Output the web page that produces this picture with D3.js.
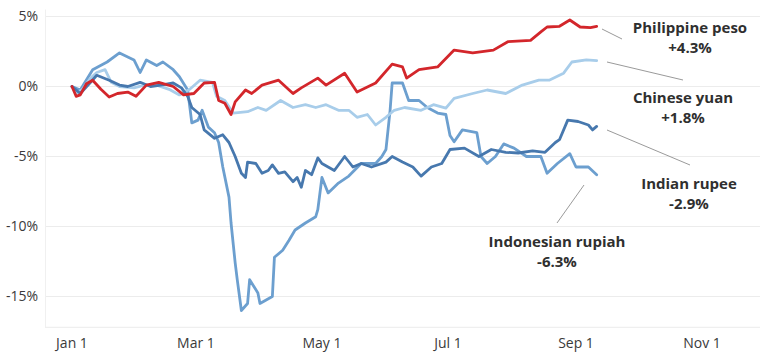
<!DOCTYPE html>
<html>
<head>
<meta charset="utf-8">
<script src="https://cdn.jsdelivr.net/npm/d3@7"></script>
<style>
  html, body { margin: 0; padding: 0; background: #fff; }
  svg { display: block; font-family: "Open Sans", Lato, sans-serif; }
  .tick-label { font-size: 14px; fill: #3a3a3a; }
  .end-label { font-size: 15px; font-weight: 700; fill: #2f2f2f; }
</style>
</head>
<body>
<div id="chart"></div>
<script>
// ---- Data (2020, % change vs. US dollar since Jan 1)
const pesoSeries = [
  ['01-01', 0], ['01-03', -0.7], ['01-05', -0.6], ['01-08', 0.2], ['01-11', 0.45],
  ['01-15', -0.2], ['01-19', -0.75], ['01-23', -0.5], ['01-28', -0.4], ['02-01', -0.7],
  ['02-06', 0.1], ['02-12', 0.3], ['02-19', 0.0], ['02-24', -0.6], ['02-29', -0.5],
  ['03-05', 0.25], ['03-10', 0.3], ['03-12', -1.0], ['03-15', -1.2], ['03-18', -2.0],
  ['03-20', -1.1], ['03-25', -0.25], ['03-28', -0.5], ['04-02', 0.1], ['04-10', 0.45],
  ['04-17', -0.5], ['04-21', -0.1], ['04-29', 0.6], ['05-03', 0.1], ['05-12', 0.95],
  ['05-18', -0.4], ['05-27', 0.25], ['06-04', 1.6], ['06-09', 1.4], ['06-11', 0.6],
  ['06-17', 1.2], ['06-26', 1.4], ['06-30', 2.0], ['07-04', 2.6], ['07-13', 2.4],
  ['07-23', 2.6], ['07-30', 3.2], ['08-10', 3.3], ['08-15', 3.9], ['08-18', 4.25],
  ['08-24', 4.3], ['08-29', 4.75], ['09-03', 4.25], ['09-08', 4.2], ['09-11', 4.3]
];

const yuanSeries = [
  ['01-01', 0], ['01-03', -0.5], ['01-06', -0.2], ['01-10', 0.6], ['01-13', 1.0],
  ['01-17', 1.2], ['01-20', 0.3], ['01-24', 0.0], ['01-31', -0.1], ['02-05', 0.1],
  ['02-11', 0.1], ['02-17', -0.2], ['02-22', -0.6], ['02-27', -0.2], ['03-03', 0.45],
  ['03-09', 0.3], ['03-11', -0.7], ['03-15', -1.0], ['03-19', -1.9], ['03-26', -1.8],
  ['03-31', -1.5], ['04-04', -1.7], ['04-11', -1.0], ['04-17', -1.5], ['04-23', -1.3],
  ['04-28', -1.5], ['05-03', -1.3], ['05-09', -1.7], ['05-14', -1.7], ['05-18', -2.2],
  ['05-23', -2.0], ['05-27', -2.75], ['06-01', -2.2], ['06-05', -1.7], ['06-10', -1.5],
  ['06-18', -1.7], ['06-24', -1.3], ['06-30', -1.55], ['07-04', -0.85], ['07-13', -0.5],
  ['07-20', -0.25], ['07-29', -0.5], ['08-06', 0.1], ['08-14', 0.45], ['08-19', 0.45],
  ['08-26', 0.95], ['08-30', 1.75], ['09-06', 1.9], ['09-11', 1.85]
];

const rupeeSeries = [
  ['01-01', 0], ['01-05', -0.5], ['01-10', 0.3], ['01-13', 0.8], ['01-19', 0.45],
  ['01-24', 0.1], ['01-28', 0.0], ['02-03', 0.3], ['02-08', 0.0], ['02-13', 0.1],
  ['02-19', 0.25], ['02-23', -0.1], ['02-26', -0.7], ['02-28', -1.5], ['03-03', -2.0],
  ['03-05', -3.1], ['03-10', -3.7], ['03-14', -3.45], ['03-17', -4.0], ['03-20', -5.0],
  ['03-23', -6.2], ['03-25', -6.5], ['03-26', -5.4], ['03-30', -5.5], ['04-02', -6.2],
  ['04-05', -6.0], ['04-07', -5.6], ['04-10', -6.2], ['04-13', -6.1], ['04-17', -6.8],
  ['04-19', -6.5], ['04-21', -7.2], ['04-23', -6.0], ['04-26', -6.3], ['04-29', -5.1],
  ['05-01', -5.5], ['05-04', -5.75], ['05-07', -6.0], ['05-12', -5.0], ['05-16', -5.75],
  ['05-20', -5.5], ['05-25', -5.75], ['06-01', -5.4], ['06-04', -5.0], ['06-09', -5.4],
  ['06-14', -5.75], ['06-18', -6.4], ['06-23', -5.75], ['06-28', -5.5], ['07-02', -4.5],
  ['07-09', -4.4], ['07-16', -5.0], ['07-22', -4.5], ['07-29', -4.7], ['08-04', -4.75],
  ['08-11', -4.6], ['08-17', -4.7], ['08-22', -4.0], ['08-24', -3.8], ['08-28', -2.4],
  ['09-02', -2.5], ['09-07', -2.75], ['09-09', -3.1], ['09-11', -2.85]
];

const rupiahSeries = [
  ['01-01', 0], ['01-05', -0.25], ['01-11', 1.2], ['01-18', 1.75], ['01-24', 2.4],
  ['01-31', 1.9], ['02-03', 1.0], ['02-06', 1.9], ['02-11', 1.5], ['02-14', 1.75],
  ['02-19', 1.2], ['02-22', 0.7], ['02-26', -0.25], ['02-28', -2.6], ['03-02', -2.4],
  ['03-04', -1.7], ['03-07', -2.9], ['03-10', -3.3], ['03-12', -4.0], ['03-14', -5.75],
  ['03-17', -7.9], ['03-18', -9.75], ['03-20', -12.6], ['03-21', -13.8], ['03-23', -16.0],
  ['03-26', -15.5], ['03-27', -13.8], ['03-31', -14.75], ['04-01', -15.5], ['04-04', -15.25],
  ['04-07', -15.0], ['04-08', -12.2], ['04-12', -11.7], ['04-15', -11.0], ['04-18', -10.25],
  ['04-23', -9.75], ['04-28', -9.3], ['04-29', -8.8], ['05-01', -6.5], ['05-04', -7.6],
  ['05-09', -6.9], ['05-14', -6.4], ['05-20', -5.5], ['05-27', -5.5], ['05-30', -5.0],
  ['06-01', -4.5], ['06-03', -1.7], ['06-04', 0.25], ['06-09', 0.25], ['06-12', -1.0],
  ['06-17', -1.0], ['06-21', -1.5], ['06-26', -1.9], ['06-30', -2.0], ['07-02', -3.5],
  ['07-04', -3.95], ['07-08', -3.1], ['07-15', -3.3], ['07-17', -5.0], ['07-20', -5.5],
  ['07-24', -5.0], ['07-28', -4.1], ['08-02', -4.4], ['08-08', -5.0], ['08-15', -5.0],
  ['08-18', -6.2], ['08-23', -5.5], ['08-29', -4.8], ['09-01', -5.75], ['09-07', -5.75],
  ['09-11', -6.3]
];

const yTicks = [5, 0, -5, -10, -15];
const xTicks = ['01-01', '03-01', '05-01', '07-01', '09-01', '11-01'];

const series = [
  { name: 'Indonesian rupiah', change: '-6.3%', data: rupiahSeries, color: '#6c9fcf' },
  { name: 'Chinese yuan', change: '+1.8%', data: yuanSeries, color: '#a8cdea' },
  { name: 'Indian rupee', change: '-2.9%', data: rupeeSeries, color: '#4778ae' },
  { name: 'Philippine peso', change: '+4.3%', data: pesoSeries, color: '#d3262b' }
];

// label placement (text centre, first baseline) and leader line (from, to)
const labelLayout = {
  'Philippine peso':   { x: 690, y: 33,  leader: [[602, 29], [622, 39]] },
  'Chinese yuan':      { x: 683, y: 103, leader: [[607, 62], [683, 80]] },
  'Indian rupee':      { x: 689, y: 189, leader: [[607, 130], [690, 165]] },
  'Indonesian rupiah': { x: 557, y: 247, leader: [[584, 185], [557, 223]] }
};

// ---- Setup
const W = 760, H = 353;
const parse = d3.timeParse('%Y-%m-%d');
const day = s => parse('2020-' + s);

const svg = d3.select('#chart').append('svg')
  .attr('width', W).attr('height', H);

const x = d3.scaleTime()
  .domain([day('01-01'), day('11-01')])
  .range([72, 702]);

const y = d3.scaleLinear()
  .domain([-17.2, 5.5])
  .range([327.3, 9.5]);

// ---- Grid
svg.append('g').selectAll('line')
  .data(yTicks.concat([-17.2]))
  .join('line')
  .attr('x1', 45).attr('x2', W)
  .attr('y1', d => y(d)).attr('y2', d => y(d))
  .attr('stroke', '#ececec')
  .attr('stroke-width', 1);

svg.append('line')
  .attr('x1', 45.5).attr('x2', 45.5)
  .attr('y1', y(5.5)).attr('y2', y(-17.2))
  .attr('stroke', '#f0f0f0');

// ---- Y axis labels
svg.append('g').selectAll('text')
  .data(yTicks)
  .join('text')
  .attr('class', 'tick-label')
  .attr('x', 38)
  .attr('y', d => y(d))
  .attr('dy', '0.35em')
  .attr('text-anchor', 'end')
  .text(d => d + '%');

// ---- X axis labels
const fmt = d3.timeFormat('%b %-d');
svg.append('g').selectAll('text')
  .data(xTicks.map(day))
  .join('text')
  .attr('class', 'tick-label')
  .attr('x', d => x(d))
  .attr('y', 348)
  .attr('text-anchor', 'middle')
  .text(d => fmt(d));

// ---- Lines
const line = d3.line()
  .x(d => x(day(d[0])))
  .y(d => y(d[1]))
  .curve(d3.curveLinear);

svg.append('g').selectAll('path')
  .data(series)
  .join('path')
  .attr('fill', 'none')
  .attr('stroke', d => d.color)
  .attr('stroke-width', 2.8)
  .attr('stroke-linejoin', 'round')
  .attr('stroke-linecap', 'round')
  .attr('d', d => line(d.data));

// ---- Leaders and end labels
const lab = svg.append('g');
series.forEach(s => {
  const L = labelLayout[s.name];
  lab.append('line')
    .attr('x1', L.leader[0][0]).attr('y1', L.leader[0][1])
    .attr('x2', L.leader[1][0]).attr('y2', L.leader[1][1])
    .attr('stroke', '#9a9a9a').attr('stroke-width', 1);
  const t = lab.append('text')
    .attr('class', 'end-label')
    .attr('text-anchor', 'middle')
    .attr('x', L.x).attr('y', L.y);
  t.append('tspan').attr('x', L.x).text(s.name);
  t.append('tspan').attr('x', L.x).attr('dy', 20).text(s.change);
});
</script>
</body>
</html>
